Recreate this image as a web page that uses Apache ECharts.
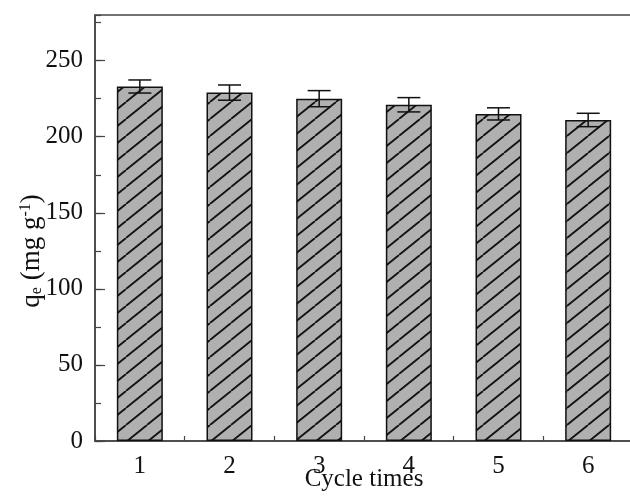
<!DOCTYPE html>
<html>
<head>
<meta charset="utf-8">
<script src="https://cdn.jsdelivr.net/npm/echarts@6/dist/echarts.min.js"></script>
<style>
html,body{margin:0;padding:0;background:#fff;}
#chart{width:630px;height:498px;}
</style>
</head>
<body>
<div id="chart"></div>
<script>
const categories = ['1', '2', '3', '4', '5', '6'];
const qeValues = [233, 229, 225, 221, 215, 211];
const qeErrors = [4.3, 5.0, 5.3, 4.7, 4.0, 4.4];
const yMin = 0;
const yMax = 280;
const yInterval = 50;
const yMinorInterval = 25;

function makeHatch() {
  const w = 21, h = 17;
  const c = document.createElement('canvas');
  c.width = w; c.height = h;
  const ctx = c.getContext('2d');
  ctx.fillStyle = '#b0b0b0';
  ctx.fillRect(0, 0, w, h);
  ctx.strokeStyle = '#111';
  ctx.lineWidth = 1.8;
  [-w, 0, w].forEach(function (dx) {
    ctx.beginPath();
    ctx.moveTo(dx, h);
    ctx.lineTo(dx + w, 0);
    ctx.stroke();
  });
  return c;
}

const font = 'Liberation Serif';
const chart = echarts.init(document.getElementById('chart'), null, {renderer: 'canvas'});

const errData = categories.map(function (c, i) { return [i, qeValues[i] - qeErrors[i], qeValues[i] + qeErrors[i]]; });

chart.setOption({
  backgroundColor: '#fff',
  animation: false,
  grid: {left: 95, top: 15, width: 538, height: 426, outerBoundsMode: 'none', containLabel: false, show: true, borderColor: '#444', borderWidth: 1.5, backgroundColor: 'transparent'},
  xAxis: [{
    type: 'category',
    data: categories,
    name: 'Cycle times',
    nameLocation: 'middle',
    nameGap: 26,
    nameMoveOverlap: false,
    nameTextStyle: {fontFamily: font, fontSize: 25, color: '#111'},
    axisLine: {show: true, lineStyle: {color: '#444', width: 1.5}},
    axisTick: {show: true, inside: true, alignWithLabel: true, length: 9, lineStyle: {color: '#444', width: 1.2}},
    axisLabel: {fontFamily: font, fontSize: 25, color: '#111', margin: 13},
    splitLine: {show: false}
  }, {
    type: 'category',
    data: categories,
    position: 'bottom',
    axisLine: {show: false},
    axisTick: {show: true, inside: true, alignWithLabel: false, length: 5, lineStyle: {color: '#444', width: 1.2}},
    axisLabel: {show: false},
    splitLine: {show: false}
  }],
  yAxis: [{
    type: 'value',
    min: yMin, max: yMax, interval: yInterval,
    name: 'q{sub|e} (mg g{sup|-1})',
    nameLocation: 'middle',
    nameGap: 50,
    nameRotate: 90,
    nameMoveOverlap: false,
    nameTextStyle: {
      fontFamily: font, fontSize: 27, color: '#111',
      padding: [0, 46, 0, 0],
      rich: {
        sub: {fontFamily: font, fontSize: 16, color: '#111', verticalAlign: 'bottom', padding: [10, 0, 0, 0]},
        sup: {fontFamily: font, fontSize: 16, color: '#111', verticalAlign: 'top', padding: [0, 0, 10, 0]}
      }
    },
    axisLine: {show: true, lineStyle: {color: '#444', width: 1.5}},
    axisTick: {show: true, inside: true, length: 10, lineStyle: {color: '#444', width: 1.2}},
    axisLabel: {fontFamily: font, fontSize: 25, color: '#111', margin: 12, showMaxLabel: false},
    splitLine: {show: false}
  }, {
    type: 'value',
    position: 'left',
    min: yMin, max: yMax, interval: yMinorInterval,
    axisLine: {show: false},
    axisTick: {show: true, inside: true, length: 6, lineStyle: {color: '#444', width: 1.2}},
    axisLabel: {show: false},
    splitLine: {show: false}
  }],
  series: [{
    type: 'bar',
    data: qeValues,
    barWidth: 46,
    itemStyle: {color: {image: makeHatch(), repeat: 'repeat'}, borderColor: '#111', borderWidth: 1.5},
    z: 2
  }, {
    type: 'custom',
    data: errData,
    z: 3,
    renderItem: function (params, api) {
      const x = api.value(0);
      const lo = api.coord([x, api.value(1)]);
      const hi = api.coord([x, api.value(2)]);
      const hw = 11.5;
      const st = {stroke: '#111', lineWidth: 1.5, fill: null};
      return {
        type: 'group',
        children: [
          {type: 'line', shape: {x1: lo[0], y1: lo[1], x2: hi[0], y2: hi[1]}, style: st},
          {type: 'line', shape: {x1: lo[0] - hw, y1: lo[1], x2: lo[0] + hw, y2: lo[1]}, style: st},
          {type: 'line', shape: {x1: hi[0] - hw, y1: hi[1], x2: hi[0] + hw, y2: hi[1]}, style: st}
        ]
      };
    }
  }]
});
</script>
</body>
</html>
